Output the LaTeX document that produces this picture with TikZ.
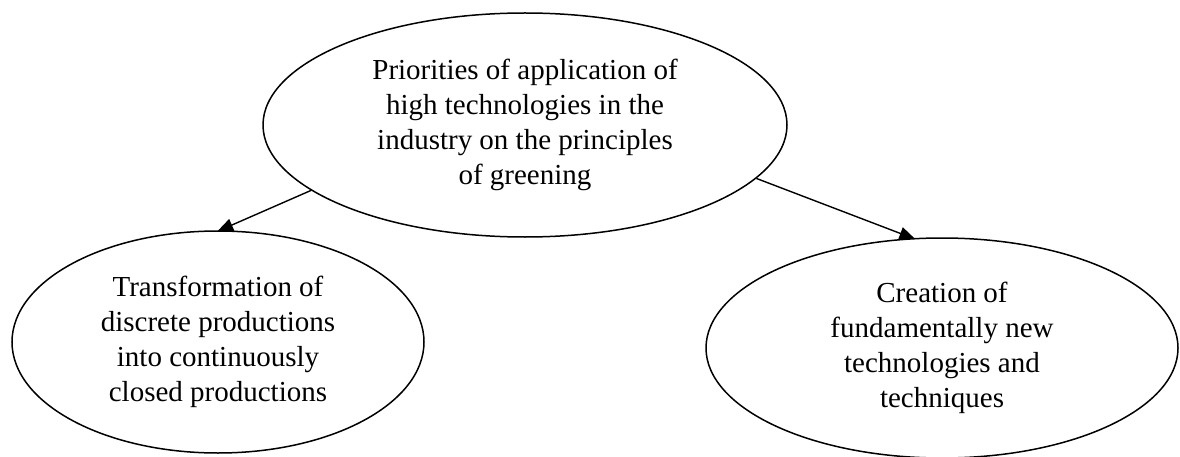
\documentclass[tikz,border=0pt]{standalone}
\usepackage{fontspec}
\setmainfont{Liberation Serif}
\usetikzlibrary{shapes.geometric,arrows.meta,backgrounds}
\tikzset{
  oval/.style={ellipse, draw, fill=white, line width=1.5pt, inner sep=0pt, align=center,
    font=\fontsize{29}{35}\selectfont},
  conn/.style={line width=1.4pt, -{Triangle[length=16pt,width=13pt]}, shorten >=-3pt}
}
\begin{document}
\begin{tikzpicture}[x=1pt,y=1pt]
\useasboundingbox (0,0) rectangle (1180,456);
\clip (0,0) rectangle (1180,456);
\node[oval, minimum width=524pt, minimum height=224pt] (top) at (525,331)
  {Priorities of application of\\high technologies in the\\industry on the principles\\of greening};
\node[oval, minimum width=412pt, minimum height=222pt] (left) at (218,114)
  {Transformation of\\discrete productions\\into continuously\\closed productions};
\node[oval, minimum width=472pt, minimum height=220pt] (right) at (942,108)
  {Creation of\\fundamentally new\\technologies and\\techniques};
\begin{pgfonlayer}{background}
\draw[conn] (top.197.9) -- (left.89);
\draw[conn] (top.347.4) -- (right.105);
\end{pgfonlayer}
\end{tikzpicture}
\end{document}
